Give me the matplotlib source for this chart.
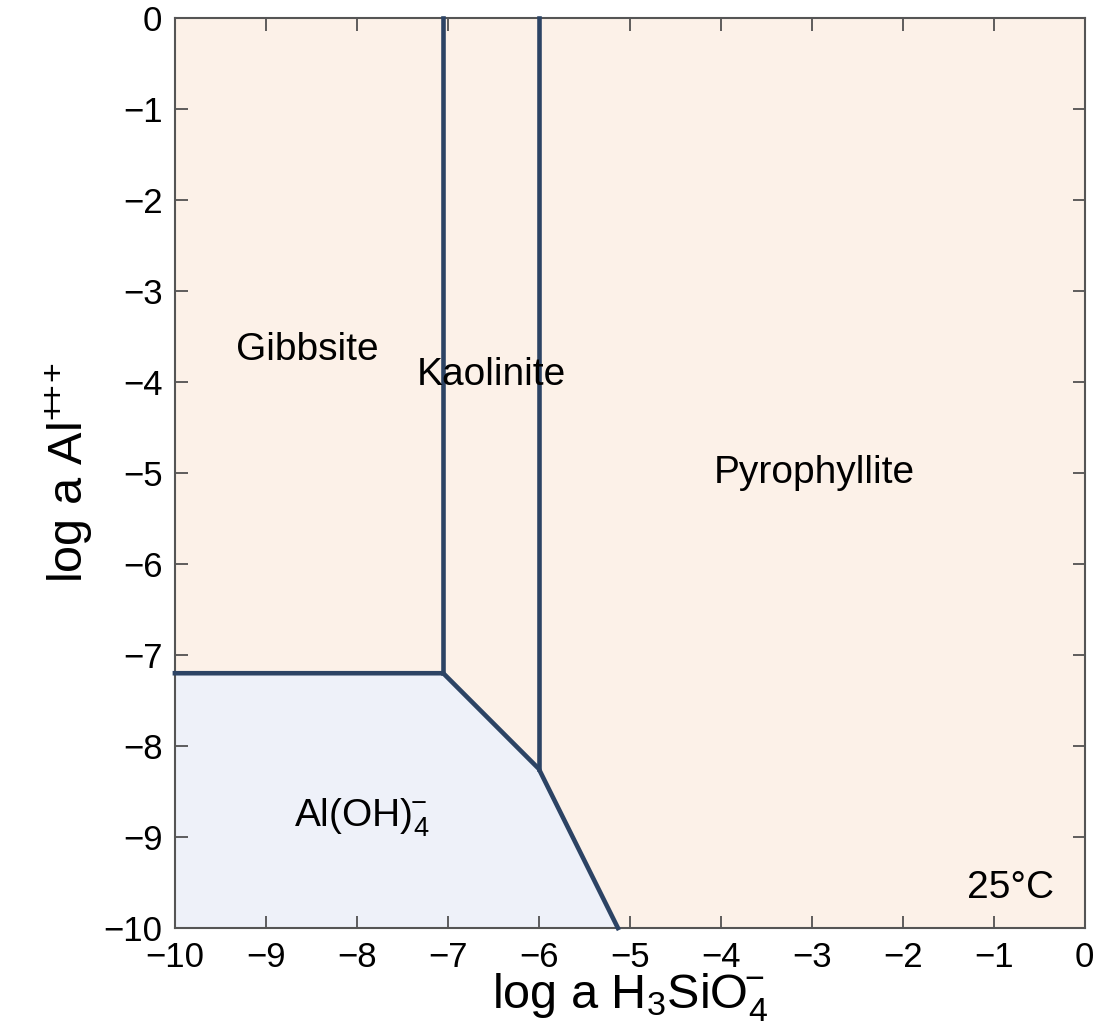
import matplotlib.pyplot as plt

plt.rcParams['font.family'] = ['Liberation Sans', 'DejaVu Sans']
plt.rcParams['mathtext.fontset'] = 'custom'
plt.rcParams['mathtext.rm'] = 'Liberation Sans'
plt.rcParams['mathtext.it'] = 'Liberation Sans'

# phase boundaries (log a H3SiO4-, log a Al+++)
gib_kao_x = [-7.05, -7.05]
gib_kao_y = [0, -7.2]
kao_pyr_x = [-6.0, -6.0]
kao_pyr_y = [0, -8.25]
aloh_x = [-10, -7.05, -6.0, -5.13]
aloh_y = [-7.2, -7.2, -8.25, -10]

# region labels (baseline positions)
labels = ['Gibbsite', 'Kaolinite', 'Pyrophyllite', r'Al(OH)$_4^{\!\!-}$', '25°C']
label_x = [-8.54, -6.52, -2.97, -7.95, -0.81]
label_y = [-3.76, -4.03, -5.11, -8.88, -9.67]

peach = '#fcf1e8'
blue = '#eef1f9'
line_col = '#2c4364'

fig = plt.figure(figsize=(11, 10.3), dpi=100)
ax = fig.add_axes([0.159, 0.099, 0.827, 0.8835])
ax.set_facecolor(peach)

ax.fill(aloh_x + [-10], aloh_y + [-10], color=blue, zorder=1)
for xs, ys in [(gib_kao_x, gib_kao_y), (kao_pyr_x, kao_pyr_y), (aloh_x, aloh_y)]:
    ax.plot(xs, ys, color=line_col, lw=3.3, solid_joinstyle='round', zorder=3, clip_on=False)

for t, x, y in zip(labels, label_x, label_y):
    ax.text(x, y, t, ha='center', va='baseline', fontsize=28, zorder=4)

ax.set_xlim(-10, 0)
ax.set_ylim(-10, 0)
ax.set_xticks(range(-10, 1))
ax.set_yticks(range(-10, 1))
ax.tick_params(direction='in', length=9, width=1.2, color='#444444', labelsize=25,
               top=True, right=True)
ax.tick_params(axis='x', pad=9)
ax.tick_params(axis='y', pad=9)
for s in ax.spines.values():
    s.set_color('#555555')
    s.set_linewidth(1.5)

ax.set_xlabel(r'log a H$_3$SiO$_4^{\!\!-}$', fontsize=35, labelpad=-2)
ax.set_ylabel(r'log a Al$^{+\!\!+\!\!+}$', fontsize=35, labelpad=6)

fig.savefig('out.png', dpi=100)
